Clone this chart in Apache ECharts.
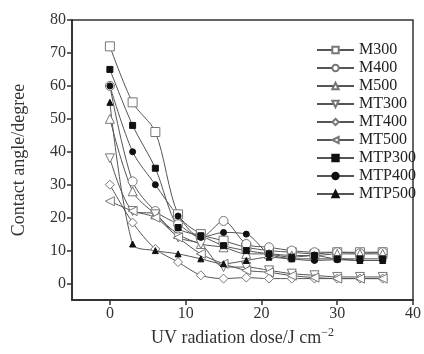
<!DOCTYPE html>
<html>
<head>
<meta charset="utf-8">
<script src="https://cdn.jsdelivr.net/npm/echarts@6/dist/echarts.min.js"></script>
<style>
  html, body { margin: 0; padding: 0; background: #fff; }
  #chart { width: 424px; height: 354px; }
</style>
</head>
<body>
<div id="chart"></div>
<script>
// UV dose (J cm^-2)
const doses = [0, 3, 6, 9, 12, 15, 18, 21, 24, 27, 30, 33, 36];

// contact angle (degree) per sample
const M300   = [72, 55, 46, 21, 15, 13, 11, 10, 9.5, 9, 9.5, 9.5, 9.5];
const M400   = [60, 31, 22, 18, 14, 19, 12, 11, 10, 9.5, 9.5, 9.2, 9.5];
const M500   = [50, 28, 21, 15, 12, 11, 9, 9, 8.5, 8.5, 9, 9, 9];
const MT300  = [38, 22, 21, 14, 12, 5, 5, 4, 3, 2.5, 2, 2, 2];
const MT400  = [30, 18.5, 10.5, 6.5, 2.5, 1.5, 1.8, 1.5, 1.5, 1.5, 1.5, 1.5, 1.5];
const MT500  = [25, 22, 20, 14, 9, 6, 4, 3.4, 2.4, 1.8, 1.5, 1.5, 1.5];
const MTP300 = [65, 48, 35, 17, 14.5, 11.5, 10, 9, 8, 8.5, 7.5, 7.5, 7.5];
const MTP400 = [60, 40, 30, 20.5, 14, 15.5, 15, 9, 7.5, 7, 7.2, 7, 7];
const MTP500 = [55, 12, 10, 9, 7.5, 6, 7, 8, 7.5, 7.5, 7.5, 7, 7];

const xTicks = [0, 10, 20, 30, 40];
const yTicks = [0, 10, 20, 30, 40, 50, 60, 70, 80];

const serif = '"Liberation Serif", "DejaVu Serif", serif';
const ink = '#555';

function pairs(ys) {
  return doses.map((x, i) => [x, ys[i]]);
}

// name, data, symbol, rotate, filled
const defs = [
  ['M300', M300, 'rect', 0, false],
  ['M400', M400, 'circle', 0, false],
  ['M500', M500, 'triangle', 0, false],
  ['MT300', MT300, 'triangle', 180, false],
  ['MT400', MT400, 'diamond', 0, false],
  ['MT500', MT500, 'triangle', 90, false],
  ['MTP300', MTP300, 'rect', 0, true],
  ['MTP400', MTP400, 'circle', 0, true],
  ['MTP500', MTP500, 'triangle', 0, true],
];

const series = defs.map(d => ({
  name: d[0],
  type: 'line',
  data: pairs(d[1]),
  smooth: 0.3,
  symbol: d[2],
  symbolRotate: d[3],
  symbolSize: d[4] ? 6 : 9,
  lineStyle: { color: ink, width: 1 },
  itemStyle: {
    color: d[4] ? '#111' : '#fff',
    borderColor: d[4] ? '#111' : '#777',
    borderWidth: 1
  }
}));

const chart = echarts.init(document.getElementById('chart'));
chart.setOption({
  animation: false,
  backgroundColor: '#fff',
  grid: {
    left: 72, right: 8, top: 20, bottom: 54,
    show: true, borderColor: '#333', borderWidth: 1.5
  },
  legend: {
    orient: 'vertical',
    left: 311, top: 37,
    itemWidth: 37, itemHeight: 8, itemGap: 2,
    textStyle: { fontFamily: serif, fontSize: 16, color: '#222', lineHeight: 16 },
    data: defs.map(d => d[0])
  },
  xAxis: {
    type: 'value', min: -5, max: 40,
    splitLine: { show: false },
    axisLine: { onZero: false, lineStyle: { color: '#333', width: 2 } },
    axisTick: { customValues: xTicks, length: 5, lineStyle: { color: '#333', width: 1.5 } },
    axisLabel: { customValues: xTicks, fontFamily: serif, fontSize: 16, color: '#333', margin: 6 },
    name: '{n|UV radiation dose/J cm}{s|−2}',
    nameLocation: 'middle', nameGap: 26,
    nameTextStyle: {
      rich: {
        n: { fontFamily: serif, fontSize: 18, color: '#333' },
        s: { fontFamily: serif, fontSize: 12, color: '#333', verticalAlign: 'top', padding: [0, 0, 10, 0] }
      }
    }
  },
  yAxis: {
    type: 'value', min: -5, max: 80,
    splitLine: { show: false },
    axisLine: { onZero: false, lineStyle: { color: '#333', width: 2 } },
    axisTick: { customValues: yTicks, length: 5, lineStyle: { color: '#333', width: 1.5 } },
    axisLabel: { customValues: yTicks, fontFamily: serif, fontSize: 16, color: '#333', margin: 6 },
    name: 'Contact angle/degree',
    nameLocation: 'middle', nameGap: 44,
    nameTextStyle: { fontFamily: serif, fontSize: 18, color: '#333' }
  },
  series: series
});
</script>
</body>
</html>
